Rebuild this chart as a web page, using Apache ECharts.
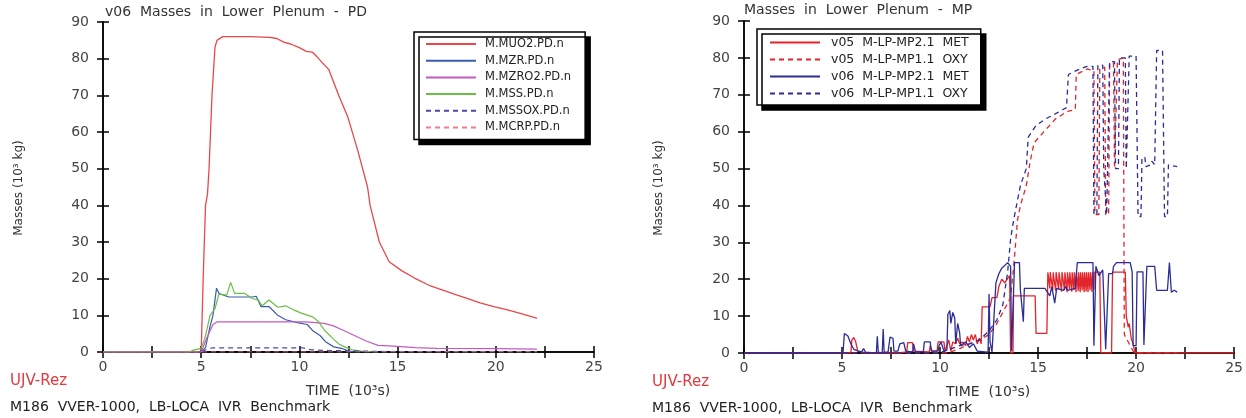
<!DOCTYPE html>
<html>
<head>
<meta charset="utf-8">
<title>Masses in Lower Plenum</title>
<script src="https://cdn.jsdelivr.net/npm/echarts@6/dist/echarts.min.js"></script>
<style>
  html, body { margin: 0; padding: 0; background: #fff; }
  #chart { width: 1246px; height: 418px; }
</style>
</head>
<body>
<div id="chart"></div>
<script>
// x in 10^3 s, y in 10^3 kg

// left plot - v06 PD
var mUO2 = [[0,0],[5.0,0],[5.1,20],[5.22,40],[5.32,43],[5.4,50],[5.55,70],[5.7,83],[5.8,85],[6.1,86],[7.5,86],[8.5,85.8],[8.85,85.5],[9.2,84.5],[9.55,84],[10.0,83],[10.35,82],[10.65,81.8],[10.9,80.5],[11.15,79],[11.5,77],[12.0,70],[12.47,64],[12.97,55],[13.47,45],[13.6,40],[14.07,30],[14.57,24.6],[15.2,22.2],[15.89,20.1],[16.6,18.2],[17.3,16.9],[18.0,15.6],[18.5,14.7],[19.2,13.4],[19.9,12.4],[20.6,11.5],[21.2,10.6],[21.9,9.5],[22.1,9.2]];
var mZR = [[0,0],[5.0,0],[5.22,1.2],[5.45,7],[5.6,10],[5.78,17.4],[5.9,16],[6.4,15],[7.6,15],[7.8,15.2],[8.04,12.4],[8.45,12.4],[8.9,10],[9.3,8.8],[9.9,8],[10.4,7.5],[10.7,5.7],[11.05,4.5],[11.35,2.7],[11.75,1.4],[12.2,0.9],[12.5,0.3],[12.8,0]];
var mZRO2 = [[0,0],[5.0,0],[5.3,4],[5.6,7.5],[5.8,8.2],[10.3,8.2],[10.85,8],[11.25,7.8],[11.7,7.2],[12.2,6],[12.8,4.5],[13.4,3],[14.0,1.8],[14.8,1.6],[15.9,1.2],[17.0,1.0],[20.0,0.9],[22.1,0.8]];
var mSS = [[0,0],[4.4,0],[4.6,0.5],[5.0,1],[5.2,4],[5.45,10],[5.7,11.8],[5.9,15.8],[6.3,15.5],[6.5,19],[6.6,19.5],[6.7,16],[7.2,16],[7.6,14.6],[7.9,14.2],[8.1,12.6],[8.45,14.2],[8.9,12.2],[9.3,12.6],[9.7,11.5],[10.1,10.6],[10.7,9.5],[11.0,8.1],[11.3,5.8],[11.7,3.7],[12.0,2.2],[12.4,1.2],[12.7,0.6],[13.2,0.2],[14.0,0]];
var mSSOX = [[0,0],[5.0,0],[5.4,1.0],[5.6,1.1],[10.2,1.1],[10.6,0.6],[11.5,0.4],[13.0,0.3],[14.5,0.1],[22.1,0.1]];
var mCRP = [[0,0],[22.1,0]];

// right plot - MP
var v05Met = [[0,0],[5.45,0],[5.5,3.5],[5.6,4.2],[5.7,3.0],[5.8,0.5],[6.0,0.3],[6.2,0],[7.9,0],[8.3,0.3],[8.35,2.8],[8.6,2.8],[8.65,0.5],[9.45,0.3],[9.5,2.0],[9.6,0.5],[9.85,0.5],[9.9,3.0],[10.2,3.0],[10.25,0.5],[10.45,3.5],[10.55,0.5],[10.65,3.0],[10.8,2.5],[10.9,4.0],[11.0,2.5],[11.15,3.0],[11.3,2.0],[11.4,4.5],[11.5,3.0],[11.6,5.0],[11.7,3.5],[11.8,5.0],[11.9,2.5],[12.0,4.0],[12.1,2.5],[12.15,12.5],[12.55,12.5],[12.65,15],[12.9,15],[13.0,18],[13.15,20],[13.3,19],[13.55,21],[13.6,0],[13.72,0],[13.75,15.5],[14.85,15.5],[14.9,5.3],[15.45,5.3],[15.5,21.9],[15.6,17.5],[15.62,21.9],[15.75,17],[15.77,21.9],[15.9,16.8],[15.92,21.9],[16.05,17.2],[16.07,21.9],[16.2,16.6],[16.22,21.9],[16.35,17],[16.37,21.9],[16.48,16.5],[16.5,21.9],[16.6,17.3],[16.62,21.9],[16.72,16.6],[16.74,21.9],[16.83,17],[16.85,21.9],[16.94,16.5],[16.96,21.9],[17.05,16.8],[17.07,21.9],[17.15,16.5],[17.17,21.9],[17.25,17],[17.27,21.9],[17.35,16.5],[17.37,21.9],[17.45,16.7],[17.47,21.9],[17.55,16.5],[17.57,21.9],[17.65,17],[17.67,21.9],[17.75,16.6],[17.77,21.9],[17.85,17.2],[17.87,21.9],[18.15,21.9],[18.2,0],[18.75,0],[18.8,21.9],[19.45,21.9],[19.5,10],[19.6,7],[19.65,8],[19.75,4],[19.85,2.5],[19.95,0],[25,0]];
var v05Oxy = [[0,0],[10.4,0],[11.0,1.2],[11.5,2.5],[12.0,3.5],[12.5,5.0],[12.9,8],[13.3,12],[13.6,15],[13.8,26],[13.95,36],[14.1,40],[14.4,45.4],[14.6,52],[14.8,57],[15.3,60],[15.9,63.5],[16.5,65.5],[16.9,66],[16.95,75.5],[17.5,77],[17.85,76.5],[17.9,37.5],[18.1,37.5],[18.15,77],[18.4,77.5],[18.45,37.5],[18.6,37.5],[18.65,78.5],[18.85,78.5],[18.9,50],[19.0,50],[19.05,79.5],[19.35,80],[19.4,5],[19.6,3],[19.9,0],[22.1,0]];
var v06Met = [[0,0],[5.05,0],[5.12,5.3],[5.3,4.6],[5.45,2.5],[5.6,1.0],[5.8,0.6],[6.0,0.3],[6.1,1.2],[6.2,0.2],[6.5,0.1],[6.75,0],[6.8,4.5],[6.85,0.2],[7.05,0],[7.1,6.5],[7.15,0.2],[7.35,0.3],[7.45,4.3],[7.6,4.0],[7.65,0.5],[7.85,0.5],[7.95,2.5],[8.15,2.8],[8.25,0.5],[8.6,0.3],[8.65,2.5],[8.75,0.3],[9.15,0.4],[9.2,3.0],[9.5,3.0],[9.55,0.5],[9.9,0.5],[9.95,2.0],[10.05,3.0],[10.2,0.5],[10.35,0.8],[10.4,10.5],[10.5,11.5],[10.55,8],[10.65,11],[10.75,9.5],[10.8,2.5],[10.9,8.0],[11.0,5.5],[11.05,2.0],[11.3,3.0],[11.5,1.5],[11.7,2.5],[11.9,0.5],[12.45,0.2],[12.5,16],[12.55,3],[12.65,0.3],[12.75,0.5],[12.85,19],[13.0,21.5],[13.15,23],[13.45,24.5],[13.6,23.5],[13.65,0.5],[13.75,0.5],[13.8,24.5],[14.05,24.5],[14.1,17],[14.2,17.5],[14.25,8.5],[14.3,17.5],[15.35,17.5],[15.4,17],[15.6,15.5],[15.7,18],[15.85,13.5],[15.95,17.5],[16.3,17],[16.4,18],[16.5,17],[16.9,17.5],[17.0,24.5],[17.8,24.5],[17.85,2.0],[17.95,23.5],[18.1,21],[18.3,22.5],[18.45,1.0],[18.6,21.5],[18.8,21.5],[18.85,23.5],[19.0,24.5],[19.7,24.5],[19.8,22],[19.85,2.0],[20.0,2.0],[20.05,22],[20.35,22],[20.4,2.2],[20.5,2.5],[20.55,23.5],[20.95,23.5],[21.05,17],[21.6,17],[21.7,24.5],[21.8,16.5],[21.95,17],[22.1,16.5]];
var v06Oxy = [[0,0],[9.9,0],[10.5,1.0],[11.0,2.0],[11.5,2.5],[12.0,3.5],[12.5,6],[12.9,9],[13.2,13],[13.45,22],[13.6,31],[13.76,36.2],[14.1,45.4],[14.4,50],[14.5,58.5],[14.9,61.7],[15.4,63.5],[15.9,64.9],[16.45,66.5],[16.55,75.5],[17.0,76.7],[17.5,77.7],[17.8,77.7],[17.85,37.5],[18.0,37.5],[18.05,78],[18.3,78],[18.35,50],[18.45,50],[18.5,37.5],[18.6,37.5],[18.65,79],[18.9,79],[18.95,50],[19.1,50],[19.15,80],[19.45,80],[19.5,50],[19.6,50],[19.65,80.5],[20.0,80.5],[20.1,37],[20.25,37],[20.3,53],[20.45,53],[20.5,50.5],[20.75,51],[20.8,52],[20.95,51],[21.05,82],[21.35,82],[21.45,37],[21.6,37],[21.65,51],[22.1,50.5]];

var leftNames = ['M.MUO2.PD.n','M.MZR.PD.n','M.MZRO2.PD.n','M.MSS.PD.n','M.MSSOX.PD.n','M.MCRP.PD.n'];
var rightNames = ['v05  M-LP-MP2.1  MET','v05  M-LP-MP1.1  OXY','v06  M-LP-MP2.1  MET','v06  M-LP-MP1.1  OXY'];

var FONT = 'DejaVu Sans';

function xAx(gi, pos, labels) {
  return {
    type: 'value', gridIndex: gi, position: pos, min: 0, max: 25, interval: 2.5,
    axisLine: { lineStyle: { color: '#000', width: 1.5 } },
    axisTick: { show: true, inside: true, length: 6, lineStyle: { color: '#000', width: 1.5 } },
    axisLabel: {
      show: labels, margin: 8, color: '#444', fontSize: 14, fontFamily: FONT, hideOverlap: false,
      formatter: function (v) { return v % 5 === 0 ? String(v) : ''; }
    },
    splitLine: { show: false }
  };
}
function yAx(gi, pos, labels) {
  return {
    type: 'value', gridIndex: gi, position: pos, min: 0, max: 90, interval: 10,
    axisLine: { show: true, lineStyle: { color: '#000', width: 1.5 } },
    axisTick: { show: true, inside: true, length: 6, lineStyle: { color: '#000', width: 1.5 } },
    axisLabel: { show: labels, margin: 14, color: '#444', fontSize: 14, fontFamily: FONT },
    splitLine: { show: false }
  };
}
function line(name, data, color, dashed, xi, yi, w) {
  return {
    name: name, type: 'line', data: data, xAxisIndex: xi, yAxisIndex: yi,
    symbol: 'none', smooth: false, silent: true,
    lineStyle: { color: color, width: w || 1.2, type: dashed ? [5, 4] : 'solid' },
    itemStyle: { color: color }
  };
}
function txt(x, y, s, size, color, rot) {
  return {
    type: 'text', x: x, y: y, rotation: rot || 0,
    style: { text: s, fontSize: size, fontFamily: FONT, fill: color, textAlign: rot ? 'center' : 'left', textVerticalAlign: 'middle' }
  };
}

var chart = echarts.init(document.getElementById('chart'));
var option = {
  animation: false,
  backgroundColor: '#fff',
  grid: [
    { left: 103, top: 22, width: 491, height: 330 },
    { left: 744, top: 21, width: 492, height: 332 }
  ],
  xAxis: [xAx(0, 'bottom', true), xAx(0, 'top', false), xAx(1, 'bottom', true), xAx(1, 'top', false)],
  yAxis: [yAx(0, 'left', true), yAx(0, 'right', false), yAx(1, 'left', true), yAx(1, 'right', false)],
  legend: [
    {
      data: leftNames, orient: 'vertical', left: 414, top: 32,
      padding: [6, 14, 6, 11], itemWidth: 50, itemHeight: 12, itemGap: 4.7,
      backgroundColor: '#fff', borderColor: '#000', borderWidth: 1.5,
      shadowColor: '#000', shadowOffsetX: 5, shadowOffsetY: 5, shadowBlur: 0,
      itemStyle: { opacity: 0 },
      textStyle: { fontSize: 11.5, fontFamily: FONT, color: '#222', lineHeight: 12, padding: [0, 0, 0, 4] },
      selectedMode: false
    },
    {
      data: rightNames, orient: 'vertical', left: 757, top: 29,
      padding: [7, 12, 5, 12], itemWidth: 50, itemHeight: 12, itemGap: 4,
      backgroundColor: '#fff', borderColor: '#000', borderWidth: 1.5,
      shadowColor: '#000', shadowOffsetX: 5, shadowOffsetY: 5, shadowBlur: 0,
      itemStyle: { opacity: 0 },
      textStyle: { fontSize: 12.5, fontFamily: FONT, color: '#222', lineHeight: 12, padding: [0, 0, 0, 6] },
      selectedMode: false
    }
  ],
  series: [
    line(leftNames[0], mUO2, '#e8474c', false, 0, 0, 1.3),
    line(leftNames[1], mZR, '#3c5bb0', false, 0, 0),
    line(leftNames[2], mZRO2, '#c05cc0', false, 0, 0),
    line(leftNames[3], mSS, '#6cbd45', false, 0, 0),
    line(leftNames[4], mSSOX, '#4a4aa8', true, 0, 0),
    line(leftNames[5], mCRP, '#f07d8c', true, 0, 0),
    line(rightNames[0], v05Met, '#e4242b', false, 2, 2, 1.3),
    line(rightNames[1], v05Oxy, '#e4242b', true, 2, 2, 1.3),
    line(rightNames[2], v06Met, '#2c2c96', false, 2, 2, 1.3),
    line(rightNames[3], v06Oxy, '#2c2c96', true, 2, 2, 1.3)
  ],
  graphic: [
    txt(105, 12, 'v06  Masses  in  Lower  Plenum  -  PD', 14, '#333'),
    txt(744, 10, 'Masses  in  Lower  Plenum  -  MP', 14, '#333'),
    txt(19, 188, 'Masses (10\u00b3 kg)', 12, '#333', Math.PI / 2),
    txt(659, 188, 'Masses (10\u00b3 kg)', 12, '#333', Math.PI / 2),
    txt(306, 391, 'TIME  (10\u00b3s)', 14, '#333'),
    txt(946, 392, 'TIME  (10\u00b3s)', 14, '#333'),
    txt(10, 381, 'UJV-Rez', 15, '#e03a3e'),
    txt(652, 382, 'UJV-Rez', 15, '#e03a3e'),
    txt(10, 407, 'M186  VVER-1000,  LB-LOCA  IVR  Benchmark', 14, '#222'),
    txt(652, 408, 'M186  VVER-1000,  LB-LOCA  IVR  Benchmark', 14, '#222')
  ]
};
chart.setOption(option);
</script>
</body>
</html>
